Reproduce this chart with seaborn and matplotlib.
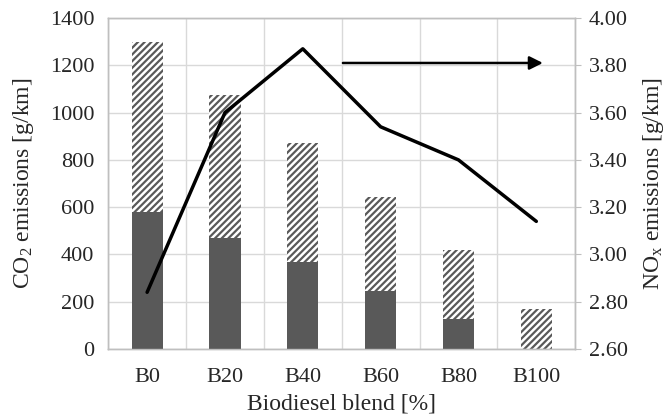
import numpy as np
import seaborn as sns
import matplotlib
import matplotlib.pyplot as plt
matplotlib.use('Agg')

blends = ["B0", "B20", "B40", "B60", "B80", "B100"]
co2_total = [1300, 1073, 870, 642, 418, 169]
co2_fossil = [580, 469, 368, 245, 127, 0]
nox = [2.84, 3.60, 3.87, 3.54, 3.40, 3.14]

sns.set_style("white")
plt.rcParams['font.family'] = ['Liberation Serif', 'DejaVu Serif']
plt.rcParams['mathtext.default'] = 'regular'
plt.rcParams['hatch.color'] = '#595959'
plt.rcParams['hatch.linewidth'] = 1.6

fig = plt.figure(figsize=(6.72, 4.2), dpi=100)
ax = fig.add_axes([0.161, 0.169, 0.695, 0.788])

# Total CO2 (hatched) and the fossil part (solid) stacked in front
sns.barplot(x=blends, y=co2_total, color='white', width=0.4, ax=ax, zorder=2)
for p in ax.patches:
    p.set_hatch('/////')
    p.set_edgecolor('#595959')
    p.set_linewidth(0)
n_tot = len(ax.patches)
sns.barplot(x=blends, y=co2_fossil, color='#595959', width=0.4, ax=ax,
            saturation=1, zorder=3)
for p in ax.patches[n_tot:]:
    p.set_linewidth(0)

ax.set_ylim(0, 1400)
ax.set_yticks(np.arange(0, 1401, 200))
ax.set_xlim(-0.5, 5.5)
ax.yaxis.grid(True, color='#d9d9d9', lw=1)
ax.set_xticks(np.arange(-0.5, 5.6, 1), minor=True)
ax.xaxis.grid(True, which='minor', color='#d9d9d9', lw=1)
ax.set_axisbelow(True)
ax.tick_params(axis='y', which='both', length=0, labelsize=16, pad=10)
ax.tick_params(axis='x', which='both', length=0, labelsize=16, pad=14)
ax.set_xlabel("Biodiesel blend [%]", fontsize=17, labelpad=4)
ax.set_ylabel("CO$_2$ emissions [g/km]", fontsize=17, labelpad=10)

# NOx line on right axis
ax2 = ax.twinx()
sns.lineplot(x=np.arange(len(blends)), y=nox, color='black', lw=2.5, ax=ax2)
ax2.set_ylim(2.6, 4.0)
ax2.set_yticks(np.arange(2.6, 4.01, 0.2))
ax2.set_yticklabels([f"{v:.2f}" for v in np.arange(2.6, 4.01, 0.2)])
ax2.tick_params(axis='y', length=4, color='#bfbfbf', labelsize=16, pad=6)
ax2.set_ylabel("NO$_x$ emissions [g/km]", fontsize=17, labelpad=9)

ax2.annotate('', xy=(5.12, 3.81), xytext=(2.48, 3.81),
             arrowprops=dict(arrowstyle='-|>', color='black', lw=1.8,
                             mutation_scale=20))

for a in (ax, ax2):
    for s in a.spines.values():
        s.set_color('#bfbfbf')
        s.set_linewidth(1)

plt.savefig("out.png", dpi=100)
